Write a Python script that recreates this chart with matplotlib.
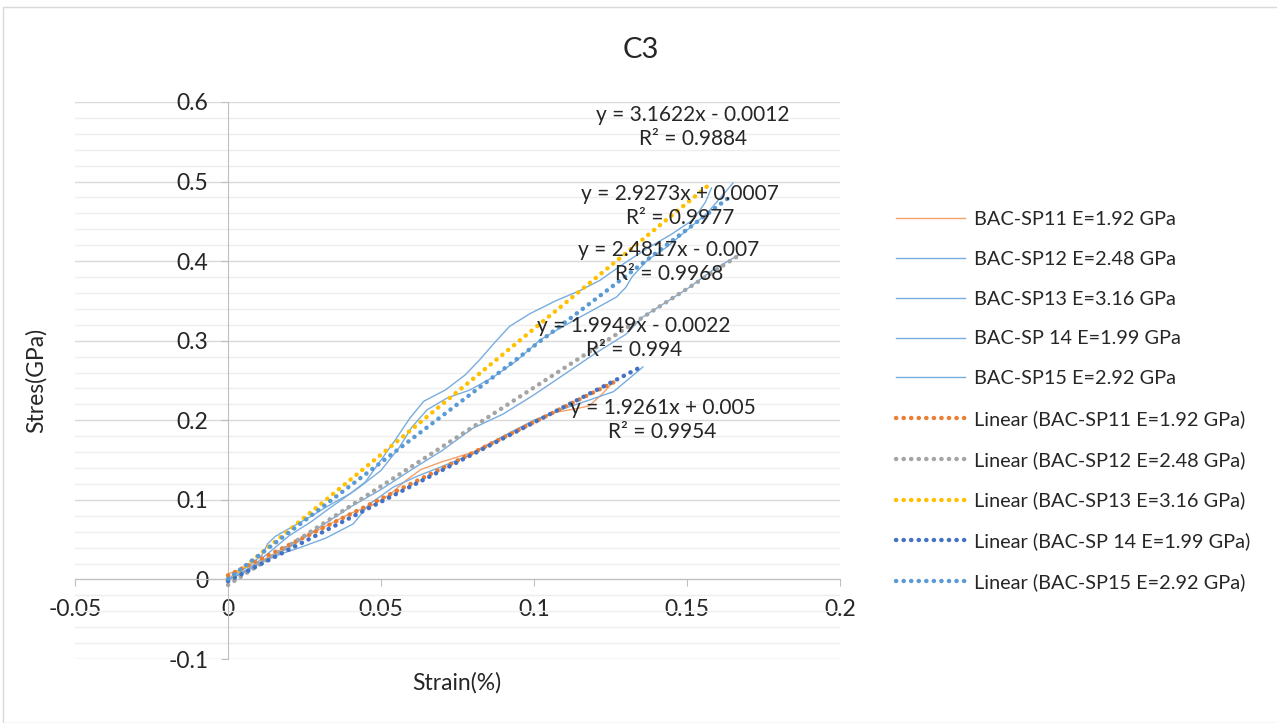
import matplotlib.pyplot as plt
from matplotlib.patches import Rectangle
from matplotlib.ticker import MultipleLocator

plt.rcParams['font.family'] = ['Lato', 'DejaVu Sans']

# raw stress-strain curves (strain %, stress GPa)
sp11_x = [0, 0.004, 0.01, 0.02, 0.03, 0.04, 0.047, 0.053, 0.058, 0.063, 0.07, 0.0735,
          0.08, 0.09, 0.1, 0.107, 0.113, 0.118, 0.122, 0.126]
sp11_y = [0.007, 0.012, 0.021, 0.043, 0.063, 0.083, 0.093, 0.107, 0.124, 0.138, 0.148, 0.152,
          0.16, 0.18, 0.2, 0.21, 0.214, 0.218, 0.232, 0.248]

sp12_x = [0, 0.005, 0.012, 0.02, 0.03, 0.04, 0.05, 0.06, 0.07, 0.08, 0.09, 0.1, 0.11,
          0.12, 0.13, 0.1356, 0.15, 0.1585, 0.167]
sp12_y = [0.0, 0.008, 0.024, 0.04, 0.066, 0.091, 0.113, 0.138, 0.162, 0.19, 0.208, 0.232, 0.258,
          0.284, 0.308, 0.33, 0.365, 0.389, 0.408]

sp13_x = [0, 0.0056, 0.011, 0.013, 0.0154, 0.02, 0.027, 0.033, 0.04, 0.045, 0.05, 0.0546,
          0.0595, 0.064, 0.071, 0.0775, 0.082, 0.087, 0.092, 0.0987, 0.107, 0.115, 0.1216,
          0.129, 0.137, 0.145, 0.152, 0.156, 0.158]
sp13_y = [0.001, 0.014, 0.03, 0.045, 0.054, 0.064, 0.079, 0.093, 0.108, 0.123, 0.15, 0.175,
          0.203, 0.224, 0.238, 0.257, 0.275, 0.297, 0.318, 0.334, 0.350, 0.363, 0.376,
          0.396, 0.416, 0.434, 0.452, 0.474, 0.492]

sp14_x = [0, 0.006, 0.012, 0.018, 0.0235, 0.032, 0.041, 0.046, 0.054, 0.062, 0.07, 0.08,
          0.09, 0.1, 0.11, 0.12, 0.126, 0.1356]
sp14_y = [0.0, 0.012, 0.024, 0.033, 0.04, 0.052, 0.07, 0.094, 0.116, 0.13, 0.142, 0.158,
          0.18, 0.2, 0.215, 0.228, 0.236, 0.267]

sp15_x = [0, 0.0056, 0.011, 0.02, 0.027, 0.033, 0.043, 0.05, 0.056, 0.06, 0.065, 0.0716,
          0.079, 0.0866, 0.0944, 0.102, 0.11, 0.119, 0.127, 0.13, 0.132, 0.137, 0.1435,
          0.15, 0.1565, 0.161, 0.165]
sp15_y = [0.0, 0.01, 0.026, 0.055, 0.072, 0.089, 0.116, 0.137, 0.166, 0.191, 0.213, 0.228,
          0.238, 0.254, 0.275, 0.301, 0.319, 0.338, 0.355, 0.367, 0.38, 0.401, 0.418,
          0.439, 0.46, 0.48, 0.498]

names = ['BAC-SP11 E=1.92 GPa', 'BAC-SP12 E=2.48 GPa', 'BAC-SP13 E=3.16 GPa',
         'BAC-SP 14 E=1.99 GPa', 'BAC-SP15 E=2.92 GPa']
raw_x = [sp11_x, sp12_x, sp13_x, sp14_x, sp15_x]
raw_y = [sp11_y, sp12_y, sp13_y, sp14_y, sp15_y]

# linear trendlines from the chart
slopes = [1.9261, 2.4817, 3.1622, 1.9949, 2.9273]
intercepts = [0.005, -0.007, -0.0012, -0.0022, 0.0007]
r2 = ['0.9954', '0.9968', '0.9884', '0.994', '0.9977']
eq_text = ['y = 1.9261x + 0.005', 'y = 2.4817x - 0.007', 'y = 3.1622x - 0.0012',
           'y = 1.9949x - 0.0022', 'y = 2.9273x + 0.0007']
label_pos = [(0.142, 0.200), (0.144, 0.399), (0.152, 0.569), (0.1327, 0.303), (0.1477, 0.469)]

xticks = [-0.05, 0, 0.05, 0.1, 0.15, 0.2]
xtick_labels = ['-0.05', '0', '0.05', '0.1', '0.15', '0.2']
yticks = [-0.1, 0, 0.1, 0.2, 0.3, 0.4, 0.5, 0.6]
ytick_labels = ['-0.1', '0', '0.1', '0.2', '0.3', '0.4', '0.5', '0.6']

raw_colors = ['#F4A06B', '#78ADDF', '#78ADDF', '#78ADDF', '#78ADDF']
trend_colors = ['#ED7D31', '#A5A5A5', '#FFC000', '#4472C4', '#5B9BD5']

fig = plt.figure(figsize=(12.77, 7.23), dpi=100)
ax = fig.add_axes([75 / 1277, 1 - 659 / 723, 765 / 1277, 557 / 723])

for i in range(5):
    ax.plot(raw_x[i], raw_y[i], color=raw_colors[i], lw=1.0, label=names[i], zorder=3)

for i in range(5):
    x0, x1 = min(raw_x[i]), max(raw_x[i])
    ax.plot([x0, x1], [slopes[i] * x0 + intercepts[i], slopes[i] * x1 + intercepts[i]],
            color=trend_colors[i], lw=3.2, linestyle=(0, (0.05, 1.65)),
            dash_capstyle='round', label='Linear (' + names[i] + ')', zorder=4)

for i in range(5):
    ax.text(label_pos[i][0], label_pos[i][1], eq_text[i] + '\nR\u00b2 = ' + r2[i],
            ha='center', va='center', fontsize=15, linespacing=1.25, color='#262626', zorder=5)

ax.set_xlim(-0.05, 0.2)
ax.set_ylim(-0.1, 0.6)
ax.set_xticks(xticks)
ax.set_xticklabels(xtick_labels)
ax.set_yticks(yticks)
ax.set_yticklabels(ytick_labels)
ax.yaxis.set_minor_locator(MultipleLocator(0.02))
ax.grid(axis='y', which='major', color='#D9D9D9', lw=1.0, zorder=0)
ax.grid(axis='y', which='minor', color='#EEEEEE', lw=1.0, zorder=0)
ax.set_axisbelow(True)

for s in ['top', 'right']:
    ax.spines[s].set_visible(False)
ax.spines['left'].set_position(('data', 0))
ax.spines['bottom'].set_position(('data', 0))
ax.spines['left'].set_color('#BFBFBF')
ax.spines['bottom'].set_color('#BFBFBF')
ax.tick_params(axis='both', which='major', color='#BFBFBF', length=5, labelsize=16.5,
               labelcolor='#262626')
ax.tick_params(axis='y', which='minor', length=0)
ax.tick_params(axis='x', pad=9)
ax.tick_params(axis='y', pad=9)

fig.text(641 / 1277, 1 - 50 / 723, 'C3', ha='center', va='center', fontsize=21, color='#262626')
fig.text(457 / 1277, 1 - 683 / 723, 'Strain(%)', ha='center', va='center', fontsize=16.5,
         color='#262626')
fig.text(36 / 1277, 1 - 380 / 723, 'Stres(GPa)', ha='center', va='center', rotation=90,
         fontsize=16.5, color='#262626')

handles, labels = ax.get_legend_handles_labels()
fig.legend(handles, labels, loc='center left', bbox_to_anchor=(878 / 1277, 1 - 401 / 723),
           frameon=False, fontsize=14.3, handlelength=3.5, handletextpad=0.45,
           labelspacing=1.15, labelcolor='#262626')

fig.patches.append(Rectangle((3 / 1277, 0), 1, 1 - 7 / 723, transform=fig.transFigure,
                             fill=False, edgecolor='#D9D9D9', lw=1.0))

fig.savefig('out.png', dpi=100, facecolor='white')
